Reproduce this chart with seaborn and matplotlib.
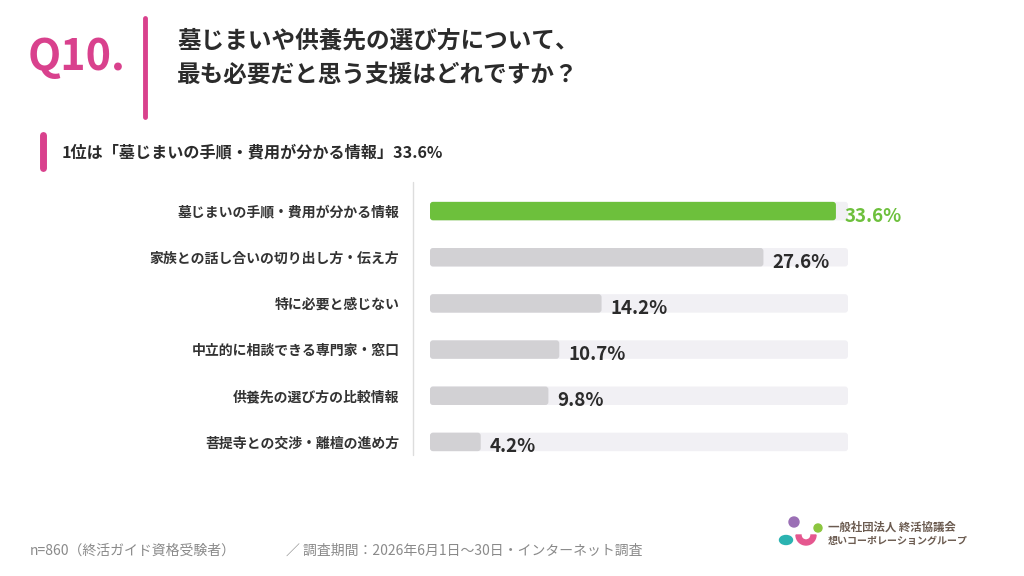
import matplotlib
matplotlib.use("Agg")
import matplotlib.pyplot as plt
import seaborn as sns
import pandas as pd
from matplotlib.patches import Circle, Wedge, Ellipse, FancyBboxPatch
from matplotlib.lines import Line2D

sns.set_theme(style="white")
plt.rcParams['font.family'] = ['Noto Sans CJK JP', 'DejaVu Sans']

categories = ["墓じまいの手順・費用が分かる情報", "家族との話し合いの切り出し方・伝え方",
              "特に必要と感じない", "中立的に相談できる専門家・窓口",
              "供養先の選び方の比較情報", "菩提寺との交渉・離檀の進め方"]
values = [33.6, 27.6, 14.2, 10.7, 9.8, 4.2]
track_max = 34.6

df = pd.DataFrame({"category": categories, "value": values,
                   "track": [track_max] * len(values)})

W, H = 1024, 576
fig = plt.figure(figsize=(W / 100, H / 100), dpi=100)
fig.patch.set_facecolor("white")

ax_w_px, ax_h_px = 418, 277
ax = fig.add_axes([430 / W, 1 - 465 / H, ax_w_px / W, ax_h_px / H])
sns.barplot(data=df, y="category", x="track", color="#F1F0F4", width=0.4,
            ax=ax, orient="h", saturation=1)
palette = ["#6DC03C"] + ["#D2D1D4"] * (len(values) - 1)
sns.barplot(data=df, y="category", x="value", hue="category", palette=palette,
            width=0.4, ax=ax, orient="h", saturation=1, legend=False)
ax.set_xlim(0, track_max)
ax.set_ylim(len(values) - 0.5, -0.5)

# round the bar corners
xpp = track_max / ax_w_px
ypp = len(values) / ax_h_px
for p in list(ax.patches):
    x0, y0 = p.get_x(), p.get_y()
    w, h = p.get_width(), p.get_height()
    fc = p.get_facecolor()
    z = p.get_zorder()
    p.remove()
    fb = FancyBboxPatch((x0, y0), w, h,
                        boxstyle=f"round,pad=0,rounding_size={3 * xpp}",
                        mutation_aspect=ypp / xpp, facecolor=fc,
                        edgecolor="none", zorder=z)
    ax.add_patch(fb)

ax.set_xlabel("")
ax.set_ylabel("")
ax.set_xticks([])
for s in ax.spines.values():
    s.set_visible(False)
ax.tick_params(axis="y", length=0, pad=22)
for lab in ax.get_yticklabels():
    lab.set_fontsize(10)
    lab.set_color("#333333")
    lab.set_fontweight("bold")

for i, v in enumerate(values):
    col = "#6DC03C" if i == 0 else "#2B2B2B"
    ax.annotate(f"{v}%", xy=(v, i), xytext=(9, -5), textcoords="offset pixels",
                ha="left", va="center", fontsize=13.5, fontweight="bold",
                color=col)

# vertical gray axis line
fig.add_artist(Line2D([413 / W, 413 / W], [1 - 182 / H, 1 - 455 / H],
                      color="#DDDDDD", lw=1))

# header
pink = "#D9418D"
fig.text(28 / W, 1 - 57 / H, "Q10.", fontsize=31, fontweight="bold", color=pink,
         va="center", ha="left")
fig.add_artist(Line2D([145 / W, 145 / W], [1 - 18 / H, 1 - 117 / H],
                      color=pink, lw=3.5, solid_capstyle="round"))
fig.text(177 / W, 1 - 41 / H, "墓じまいや供養先の選び方について、", fontsize=17,
         fontweight="bold", color="#2B2B2B", va="center", ha="left")
fig.text(177 / W, 1 - 75 / H, "最も必要だと思う支援はどれですか？", fontsize=17,
         fontweight="bold", color="#2B2B2B", va="center", ha="left")

fig.add_artist(Line2D([43 / W, 43 / W], [1 - 135 / H, 1 - 168 / H],
                      color=pink, lw=5, solid_capstyle="round"))
fig.text(62 / W, 1 - 152 / H, "1位は「墓じまいの手順・費用が分かる情報」33.6%",
         fontsize=11.6, fontweight="bold", color="#2B2B2B", va="center", ha="left")

# footer
fig.text(30 / W, 1 - 551 / H, "n=860（終活ガイド資格受験者）", fontsize=10,
         color="#8A8A8A", va="center", ha="left")
fig.text(286 / W, 1 - 551 / H, "／ 調査期間：2026年6月1日～30日・インターネット調査",
         fontsize=10, color="#8A8A8A", va="center", ha="left")

# logo
lax = fig.add_axes([0, 0, 1, 1], facecolor="none")
lax.set_xlim(0, W)
lax.set_ylim(H, 0)
lax.axis("off")
lax.add_patch(Circle((794, 522), 5, color="#9B6FB5"))
lax.add_patch(Circle((818, 528), 4, color="#8CC63F"))
lax.add_patch(Ellipse((786, 540), 13, 9, color="#2BB3B1"))
lax.add_patch(Wedge((806, 535), 10, 0, 180, width=5, color="#E5578F"))
lax.text(828, 527, "一般社団法人 終活協議会", fontsize=8.2, fontweight="bold",
         color="#6B5B50", va="center", ha="left")
lax.text(828, 541, "想いコーポレーショングループ", fontsize=7.2, fontweight="bold",
         color="#6B5B50", va="center", ha="left")

fig.savefig("out.png", dpi=100, facecolor="white")
